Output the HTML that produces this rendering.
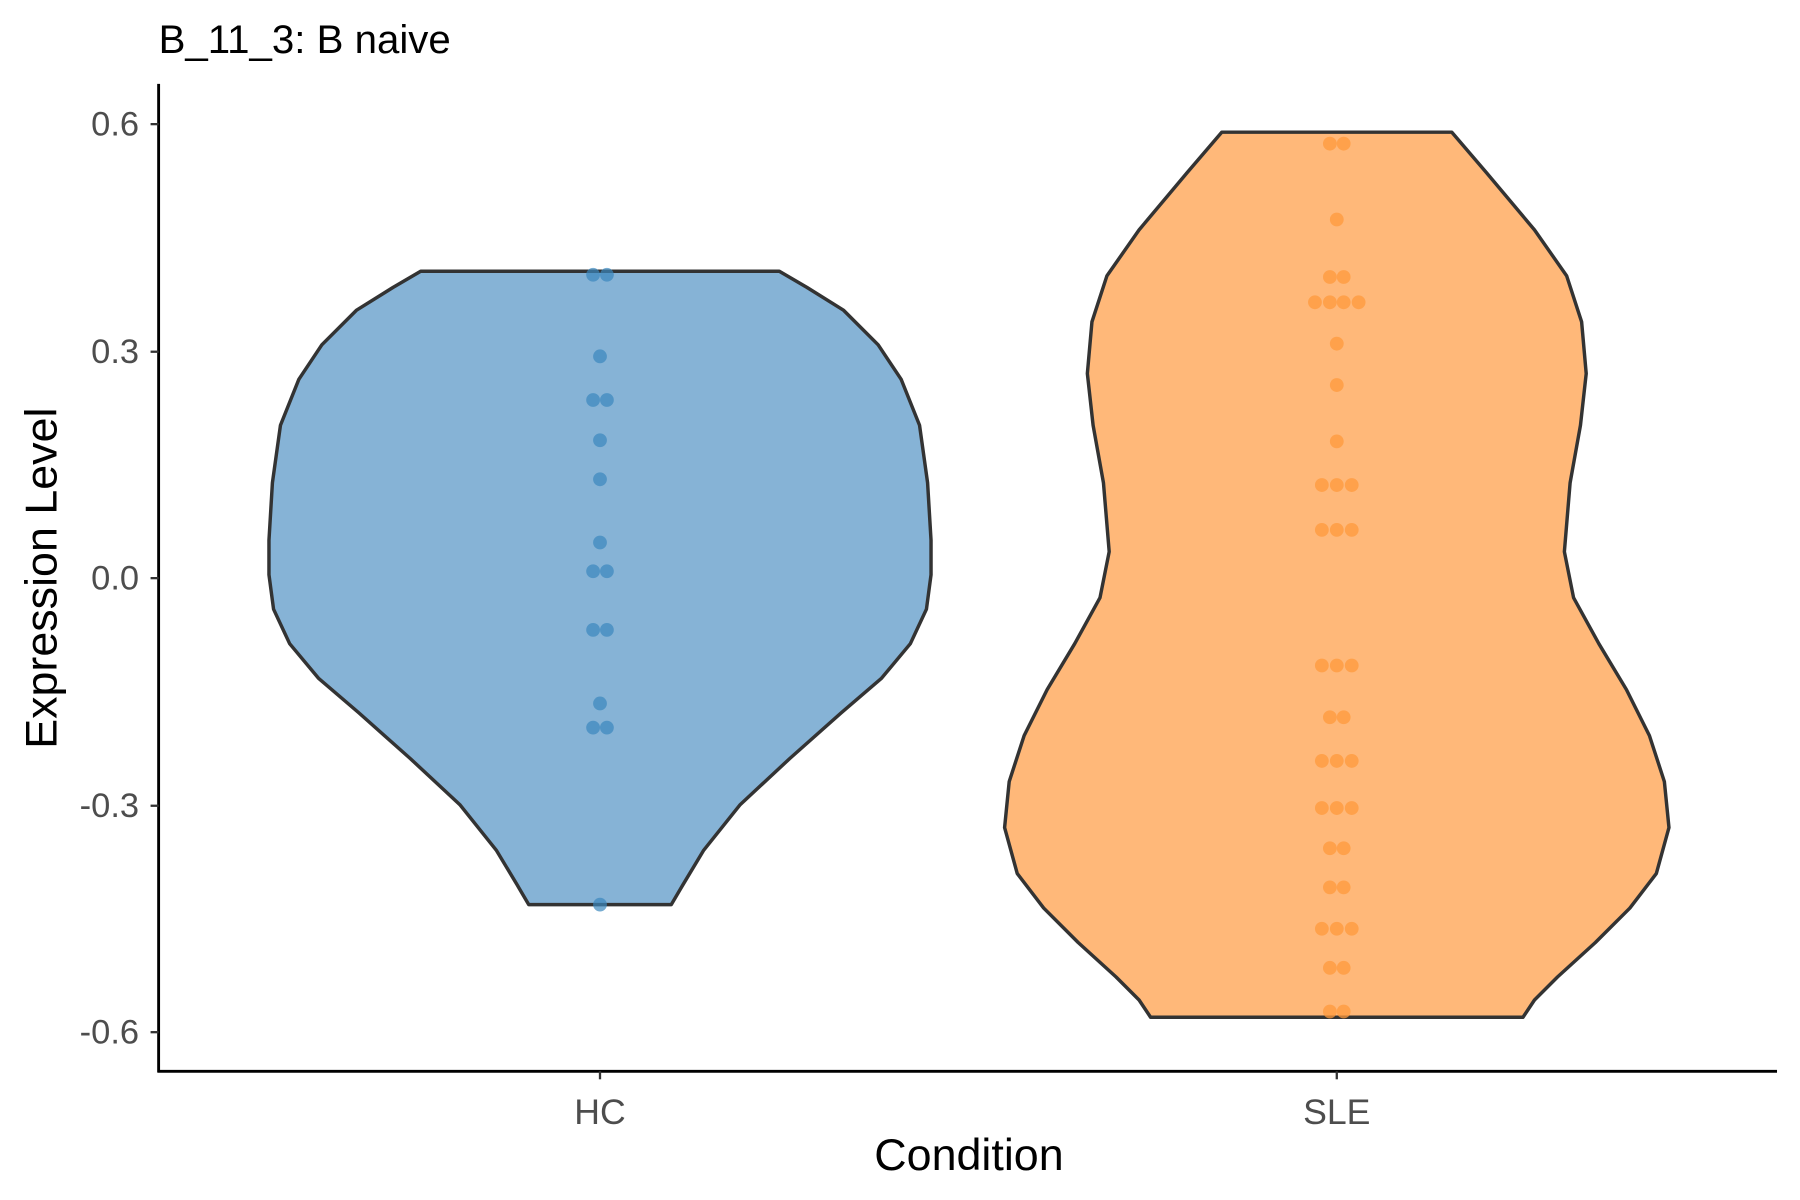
<!DOCTYPE html>
<html><head><meta charset="utf-8"><style>html,body{margin:0;padding:0;background:#fff}svg{display:block}</style></head>
<body>
<svg width="1800" height="1200" viewBox="0 0 1566 1044" preserveAspectRatio="xMinYMin meet" xmlns="http://www.w3.org/2000/svg" font-family="Liberation Sans, Arial, sans-serif">
<rect width="1566" height="1044" fill="#fff"/>
<text x="138" y="46" font-size="35" fill="#000">B_11_3: B naive</text>
<path fill="#86b3d6" stroke="#333" stroke-width="3" stroke-linejoin="round" d="M366,236 L678,236 L702,250 L734,270 L764,300 L784,330 L800,370 L807,420 L810,470 L810,500 L806,530 L792,560 L767,590 L732,620 L687,660 L644,700 L612,740 L594,770 L584,787 L460,787 L450,770 L432,740 L400,700 L357,660 L312,620 L277,590 L252,560 L238,530 L234,500 L234,470 L237,420 L244,370 L260,330 L280,300 L310,270 L342,250 Z"/>
<path fill="#ffb879" stroke="#333" stroke-width="3" stroke-linejoin="round" d="M1063,115 L1263,115 L1293,150 L1335,200 L1363,240 L1376,280 L1380,325 L1375,370 L1366,420 L1361,480 L1369,520 L1391,560 L1415,600 L1435,640 L1448,680 L1452,720 L1441,760 L1418,790 L1388,820 L1355,850 L1335,870 L1325,885 L1001,885 L991,870 L971,850 L938,820 L908,790 L885,760 L874,720 L878,680 L891,640 L911,600 L935,560 L957,520 L965,480 L960,420 L951,370 L946,325 L950,280 L963,240 L991,200 L1033,150 Z"/>
<g fill="#3a87bd" fill-opacity="0.7">
<circle cx="516" cy="239" r="6"/><circle cx="528" cy="239" r="6"/>
<circle cx="522" cy="310" r="6"/>
<circle cx="516" cy="348" r="6"/><circle cx="528" cy="348" r="6"/>
<circle cx="522" cy="383" r="6"/>
<circle cx="522" cy="417" r="6"/>
<circle cx="522" cy="472" r="6"/>
<circle cx="516" cy="497" r="6"/><circle cx="528" cy="497" r="6"/>
<circle cx="516" cy="548" r="6"/><circle cx="528" cy="548" r="6"/>
<circle cx="522" cy="612" r="6"/>
<circle cx="516" cy="633" r="6"/><circle cx="528" cy="633" r="6"/>
<circle cx="522" cy="787" r="6"/>
</g>
<g fill="#ff9a3c" fill-opacity="0.75">
<circle cx="1157" cy="125" r="6"/><circle cx="1169" cy="125" r="6"/>
<circle cx="1163" cy="191" r="6"/>
<circle cx="1157" cy="241" r="6"/><circle cx="1169" cy="241" r="6"/>
<circle cx="1144" cy="263" r="6"/><circle cx="1157" cy="263" r="6"/><circle cx="1169" cy="263" r="6"/><circle cx="1182" cy="263" r="6"/>
<circle cx="1163" cy="299" r="6"/>
<circle cx="1163" cy="335" r="6"/>
<circle cx="1163" cy="384" r="6"/>
<circle cx="1150" cy="422" r="6"/><circle cx="1163" cy="422" r="6"/><circle cx="1176" cy="422" r="6"/>
<circle cx="1150" cy="461" r="6"/><circle cx="1163" cy="461" r="6"/><circle cx="1176" cy="461" r="6"/>
<circle cx="1150" cy="579" r="6"/><circle cx="1163" cy="579" r="6"/><circle cx="1176" cy="579" r="6"/>
<circle cx="1157" cy="624" r="6"/><circle cx="1169" cy="624" r="6"/>
<circle cx="1150" cy="662" r="6"/><circle cx="1163" cy="662" r="6"/><circle cx="1176" cy="662" r="6"/>
<circle cx="1150" cy="703" r="6"/><circle cx="1163" cy="703" r="6"/><circle cx="1176" cy="703" r="6"/>
<circle cx="1157" cy="738" r="6"/><circle cx="1169" cy="738" r="6"/>
<circle cx="1157" cy="772" r="6"/><circle cx="1169" cy="772" r="6"/>
<circle cx="1150" cy="808" r="6"/><circle cx="1163" cy="808" r="6"/><circle cx="1176" cy="808" r="6"/>
<circle cx="1157" cy="842" r="6"/><circle cx="1169" cy="842" r="6"/>
<circle cx="1157" cy="880" r="6"/><circle cx="1169" cy="880" r="6"/>
</g>
<g stroke="#000" stroke-width="2.5" fill="none">
<line x1="138" y1="73" x2="138" y2="933"/>
<line x1="137" y1="932" x2="1546" y2="932"/>
</g>
<g stroke="#333" stroke-width="2">
<line x1="131" y1="108" x2="138" y2="108"/><line x1="131" y1="306" x2="138" y2="306"/>
<line x1="131" y1="503" x2="138" y2="503"/><line x1="131" y1="701" x2="138" y2="701"/>
<line x1="131" y1="898" x2="138" y2="898"/>
<line x1="522" y1="932" x2="522" y2="939"/><line x1="1163" y1="932" x2="1163" y2="939"/>
</g>
<g font-size="30" fill="#4d4d4d" text-anchor="end">
<text x="121" y="118">0.6</text><text x="121" y="316">0.3</text><text x="121" y="513">0.0</text>
<text x="121" y="711">-0.3</text><text x="121" y="908">-0.6</text>
</g>
<g font-size="31" fill="#4d4d4d" text-anchor="middle">
<text x="522" y="978">HC</text><text x="1163" y="978">SLE</text>
</g>
<text x="843" y="1018" font-size="39" text-anchor="middle" fill="#000">Condition</text>
<text transform="translate(49,503) rotate(-90)" font-size="39" text-anchor="middle" fill="#000">Expression Level</text>
</svg>
</body></html>
